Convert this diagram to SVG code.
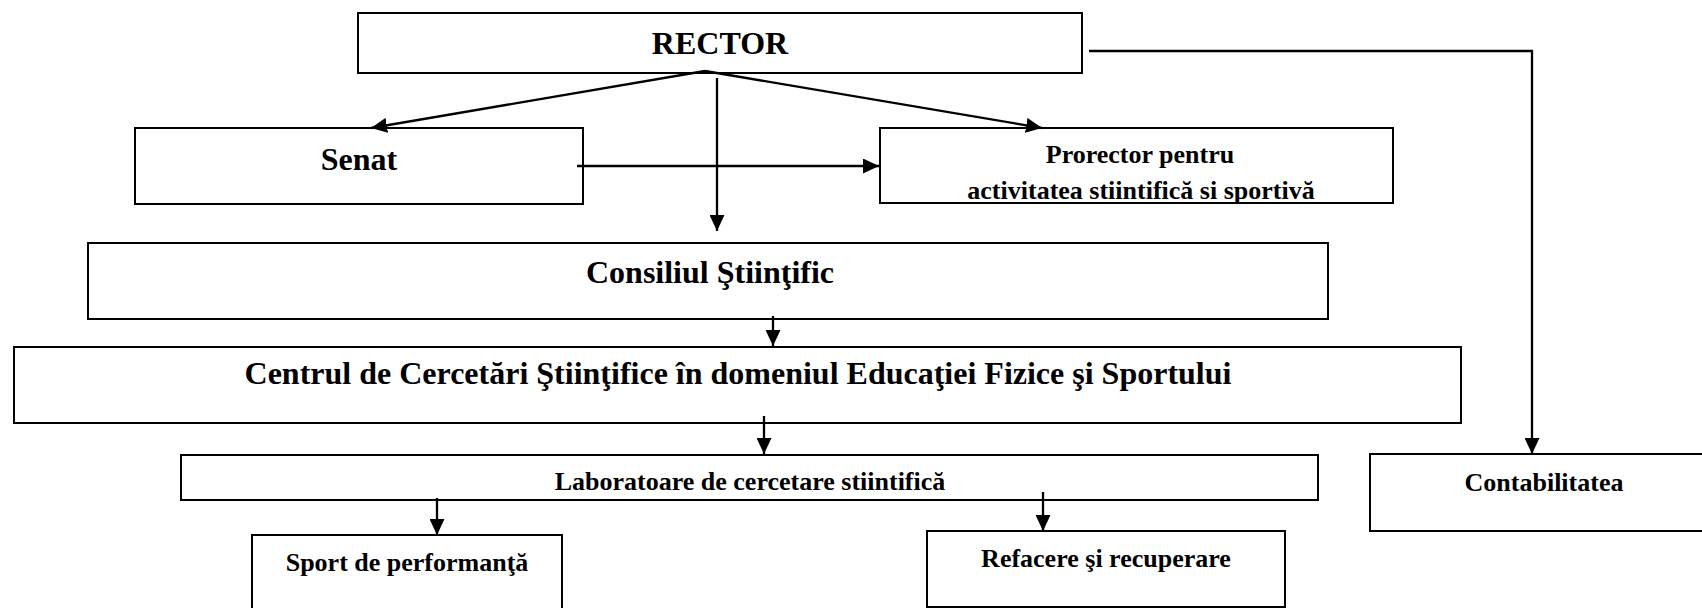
<svg xmlns="http://www.w3.org/2000/svg" width="1702" height="608" viewBox="0 0 1702 608">
<style>
.box{fill:#fff;stroke:#000;stroke-width:2}
.t{font-family:"Liberation Serif","Times New Roman",serif;font-weight:bold;fill:#000;text-anchor:middle}
.l{font-size:32px}
.s{font-size:26px}
.c{fill:none;stroke:#000;stroke-width:2.3}
</style>
<defs>
<marker id="ah" viewBox="0 0 16 15" refX="16" refY="7.5" markerWidth="16" markerHeight="15" markerUnits="userSpaceOnUse" orient="auto"><path d="M0,0 L16,7.5 L0,15 Z" fill="#000"/></marker>
<clipPath id="cp"><rect x="880" y="129" width="512" height="73"/></clipPath>
</defs>
<rect width="1702" height="608" fill="#fff"/>
<g id="rector"><rect class="box" x="358" y="13" width="724" height="60"/><text class="t l" x="720" y="54">RECTOR</text></g>
<g id="senat"><rect class="box" x="135" y="128" width="448" height="76"/><text class="t l" x="359" y="170">Senat</text></g>
<g id="prorector"><rect class="box" x="880" y="128" width="513" height="75"/><g clip-path="url(#cp)"><text class="t s" x="1140" y="163">Prorector pentru</text><text class="t s" x="1141" y="199">activitatea stiintifică si sportivă</text></g></g>
<g id="consiliul"><rect class="box" x="88" y="243" width="1240" height="76"/><text class="t l" x="710" y="283">Consiliul Ştiinţific</text></g>
<g id="centrul"><rect class="box" x="14" y="347" width="1447" height="76"/><text class="t l" x="738" y="384">Centrul de Cercetări Ştiinţifice în domeniul Educaţiei Fizice şi Sportului</text></g>
<g id="laboratoare"><rect class="box" x="181" y="455" width="1137" height="45"/><text class="t s" x="750" y="490">Laboratoare de cercetare stiintifică</text></g>
<g id="sport"><rect class="box" x="252" y="535" width="310" height="90"/><text class="t s" x="407" y="571">Sport de performanţă</text></g>
<g id="refacere"><rect class="box" x="927" y="531" width="358" height="76"/><text class="t s" x="1106" y="567">Refacere şi recuperare</text></g>
<g id="contabilitatea"><rect class="box" x="1370" y="454" width="360" height="77"/><text class="t s" x="1544" y="491">Contabilitatea</text></g>
<g id="connectors">
<line class="c" x1="705" y1="71" x2="371" y2="128" marker-end="url(#ah)"/>
<line class="c" x1="705" y1="71" x2="1042" y2="128" marker-end="url(#ah)"/>
<line class="c" x1="717" y1="78" x2="717" y2="231" marker-end="url(#ah)"/>
<line class="c" x1="577" y1="166" x2="879" y2="166" marker-end="url(#ah)"/>
<line class="c" x1="773" y1="316" x2="773" y2="346" marker-end="url(#ah)"/>
<line class="c" x1="764" y1="416" x2="764" y2="454" marker-end="url(#ah)"/>
<line class="c" x1="437" y1="498" x2="437" y2="535" marker-end="url(#ah)"/>
<line class="c" x1="1043" y1="492" x2="1043" y2="531" marker-end="url(#ah)"/>
<polyline class="c" points="1089,51 1532,51 1532,454" marker-end="url(#ah)"/>
</g>
</svg>
